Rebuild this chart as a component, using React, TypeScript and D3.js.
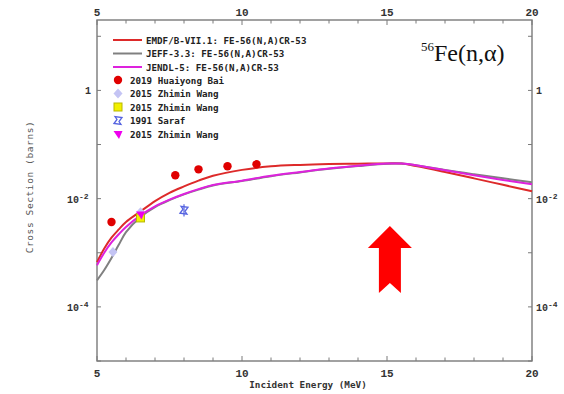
import React from "react";
import * as d3 from "d3";

// Evaluated cross sections for 56Fe(n,α)53Cr (barns) vs incident energy (MeV)
const energies = [5, 5.25, 5.5, 5.75, 6, 6.5, 7, 7.5, 8, 8.5, 9, 10, 11, 12, 13, 14, 15, 15.5, 16, 17, 18, 19, 20];
const endfValues = [6.7e-4, 1.2e-3, 1.9e-3, 2.7e-3, 3.7e-3, 5.8e-3, 9.0e-3, 0.0128, 0.0168, 0.0215, 0.0265, 0.034, 0.0395, 0.042, 0.0435, 0.0443, 0.0448, 0.0445, 0.040, 0.031, 0.0237, 0.018, 0.0137];
const jeffValues = [3.1e-4, 4.8e-4, 8.0e-4, 1.4e-3, 2.4e-3, 4.6e-3, 7.0e-3, 9.4e-3, 0.012, 0.0147, 0.0175, 0.0212, 0.026, 0.0305, 0.0355, 0.040, 0.0443, 0.0445, 0.0415, 0.0338, 0.0282, 0.0238, 0.020];
const jendlValues = [5.9e-4, 1.0e-3, 1.55e-3, 2.2e-3, 3.0e-3, 4.9e-3, 7.2e-3, 9.6e-3, 0.0122, 0.015, 0.0178, 0.0215, 0.0265, 0.031, 0.036, 0.0405, 0.0445, 0.0445, 0.0415, 0.0335, 0.027, 0.0222, 0.0184];

// Experimental data
const baiEnergies = [5.5, 7.7, 8.5, 9.5, 10.5];
const baiValues = [0.0037, 0.027, 0.0348, 0.0396, 0.0431];
const wangDiamondEnergies = [5.55, 6.5];
const wangDiamondValues = [0.00103, 0.0056];
const wangSquareEnergies = [6.5];
const wangSquareValues = [0.0044];
const sarafEnergies = [8.0];
const sarafValues = [0.0061];
const sarafLow = [0.0047];
const sarafHigh = [0.0079];
const wangTriEnergies = [6.5];
const wangTriValues = [0.0051];

const xTicks = d3.range(5, 21, 1);
const xLabels = [5, 10, 15, 20];
const yTicks = [1e-5, 1e-4, 1e-3, 1e-2, 1e-1, 1, 10];
const yLabels: { v: number; base: string; exp: string }[] = [
  { v: 1, base: "1", exp: "" },
  { v: 1e-2, base: "10", exp: "-2" },
  { v: 1e-4, base: "10", exp: "-4" },
];

const curveLegend = [
  { name: "EMDF/B-VII.1: FE-56(N,A)CR-53", color: "#dd2a2a" },
  { name: "JEFF-3.3: FE-56(N,A)CR-53", color: "#808080" },
  { name: "JENDL-5: FE-56(N,A)CR-53", color: "#dd22dd" },
];
const pointLegend = ["2019 Huaiyong Bai", "2015 Zhimin Wang", "2015 Zhimin Wang", "1991 Saraf", "2015 Zhimin Wang"];

const W = 564;
const H = 394;
const left = 97;
const right = 532;
const top = 20;
const bottom = 361;

const axisColor = "#7a7a7a";
const mono = "'DejaVu Sans Mono', monospace";

function Marker({ kind, x, y }: { kind: number; x: number; y: number }) {
  if (kind === 0) return <circle cx={x} cy={y} r={4.2} fill="#e00000" />;
  if (kind === 1)
    return <path d={`M${x},${y - 5}L${x + 4.5},${y}L${x},${y + 5}L${x - 4.5},${y}Z`} fill="#c4c4f4" />;
  if (kind === 2)
    return <rect x={x - 4} y={y - 4} width={8} height={8} fill="#f2f000" stroke="#b8b800" strokeWidth={1} />;
  if (kind === 3)
    return (
      <g stroke="#5563e0" strokeWidth={1.3} fill="none">
        <path d={`M${x - 4},${y + 3}L${x - 1},${y - 1}L${x - 3},${y - 4}L${x + 4},${y - 3}L${x + 1},${y + 1}L${x + 3},${y + 4}Z`} />
      </g>
    );
  return (
    <g fill="#ee00ee">
      <path d={`M${x - 4.5},${y - 3}L${x + 4.5},${y - 3}L${x + 1},${y + 5}Z`} />
    </g>
  );
}

export default function App() {
  const x = d3.scaleLinear().domain([5, 20]).range([left, right]);
  const y = d3.scaleLog().domain([1e-5, 20]).range([bottom, top]);

  const mkLine = (vals: number[]) =>
    d3
      .line<number>()
      .x((_, i) => x(energies[i]))
      .y((v) => y(v))
      .curve(d3.curveCatmullRom.alpha(0.5))(vals) as string;

  const arrowX = x(15.1);
  const arrowTip = 226;
  const arrowPath = `M${arrowX},${arrowTip}L${arrowX + 22},${arrowTip + 22}L${arrowX + 11},${arrowTip + 22}L${arrowX + 11},${arrowTip + 67}L${arrowX},${arrowTip + 57}L${arrowX - 11},${arrowTip + 67}L${arrowX - 11},${arrowTip + 22}L${arrowX - 22},${arrowTip + 22}Z`;

  return (
    <svg width={W} height={H} style={{ position: "fixed", left: 0, top: 0, background: "#fff" }}>
      <rect width={W} height={H} fill="#fff" />

      {/* frame */}
      <rect x={left} y={top} width={right - left} height={bottom - top} fill="none" stroke={axisColor} strokeWidth={1.4} />

      {/* x ticks */}
      {xTicks.map((t) => {
        const len = t % 5 === 0 ? 5 : 3.5;
        return (
          <g key={`xt${t}`} stroke={axisColor} strokeWidth={1}>
            <line x1={x(t)} x2={x(t)} y1={bottom} y2={bottom - len} />
            <line x1={x(t)} x2={x(t)} y1={top} y2={top + len} />
          </g>
        );
      })}
      {xLabels.map((t) => (
        <g key={`xl${t}`} fontFamily="'Liberation Mono', monospace" fontWeight="bold" fontSize={11} fill="#333" textAnchor="middle">
          <text x={x(t)} y={377}>{t}</text>
          <text x={x(t)} y={16}>{t}</text>
        </g>
      ))}

      {/* y ticks */}
      {yTicks.map((t) => (
        <g key={`yt${t}`} stroke={axisColor} strokeWidth={1}>
          <line x1={left} x2={left + 4} y1={y(t)} y2={y(t)} />
          <line x1={right} x2={right - 4} y1={y(t)} y2={y(t)} />
        </g>
      ))}
      {yLabels.map((l) => (
        <g key={`yl${l.v}`} fontFamily="'Liberation Mono', monospace" fontWeight="bold" fill="#333" fontSize={10}>
          <text x={l.exp ? 67 : 85} y={y(l.v) + 4}>
            {l.base}
            {l.exp && (
              <tspan fontSize={8} dy={-4}>
                {l.exp}
              </tspan>
            )}
          </text>
          <text x={536} y={y(l.v) + 4}>
            {l.base}
            {l.exp && (
              <tspan fontSize={8} dy={-4}>
                {l.exp}
              </tspan>
            )}
          </text>
        </g>
      ))}

      {/* axis titles */}
      <text x={308} y={388} textAnchor="middle" fontFamily={mono} fontWeight="bold" fontSize={9.3} fill="#333">
        Incident Energy (MeV)
      </text>
      <text
        transform="translate(33,187) rotate(-90)"
        textAnchor="middle"
        fontFamily={mono}
        fontSize={9.5}
        letterSpacing={0.6}
        fill="#555"
      >
        Cross Section (barns)
      </text>

      {/* evaluated curves */}
      <g fill="none" strokeWidth={2} strokeLinejoin="round">
        <path d={mkLine(endfValues)} stroke={curveLegend[0].color} />
        <path d={mkLine(jeffValues)} stroke={curveLegend[1].color} />
        <path d={mkLine(jendlValues)} stroke={curveLegend[2].color} />
      </g>

      {/* experimental points */}
      {baiEnergies.map((e, i) => (
        <Marker key={`b${i}`} kind={0} x={x(e)} y={y(baiValues[i])} />
      ))}
      {wangDiamondEnergies.map((e, i) => (
        <Marker key={`d${i}`} kind={1} x={x(e)} y={y(wangDiamondValues[i])} />
      ))}
      {wangSquareEnergies.map((e, i) => (
        <Marker key={`s${i}`} kind={2} x={x(e)} y={y(wangSquareValues[i])} />
      ))}
      {sarafEnergies.map((e, i) => (
        <g key={`sa${i}`}>
          <line x1={x(e)} x2={x(e)} y1={y(sarafLow[i])} y2={y(sarafHigh[i])} stroke="#5563e0" strokeWidth={1.2} />
          <Marker kind={3} x={x(e)} y={y(sarafValues[i])} />
        </g>
      ))}
      {wangTriEnergies.map((e, i) => (
        <Marker key={`t${i}`} kind={4} x={x(e)} y={y(wangTriValues[i])} />
      ))}

      {/* legend */}
      {curveLegend.map((c, i) => (
        <g key={`lc${i}`}>
          <line x1={113} x2={142} y1={40 + i * 13.5} y2={40 + i * 13.5} stroke={c.color} strokeWidth={2} />
          <text x={146} y={43.5 + i * 13.5} fontFamily={mono} fontWeight="bold" fontSize={9.2} fill="#222">
            {c.name}
          </text>
        </g>
      ))}
      {pointLegend.map((name, i) => (
        <g key={`lp${i}`}>
          <Marker kind={i} x={118} y={80 + i * 13.5} />
          <text x={130} y={83.5 + i * 13.5} fontFamily={mono} fontWeight="bold" fontSize={9.2} fill="#222">
            {name}
          </text>
        </g>
      ))}

      {/* reaction label */}
      <text x={421} y={61} fontFamily="'Liberation Serif', serif" fontSize={24} fill="#111">
        <tspan fontSize={13} dy={-10}>56</tspan>
        <tspan dy={10}>Fe(n,α)</tspan>
      </text>

      {/* highlight arrow */}
      <path d={arrowPath} fill="#ff0000" />
    </svg>
  );
}
